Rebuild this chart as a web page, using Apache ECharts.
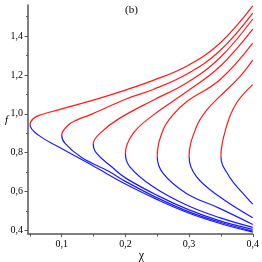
<!DOCTYPE html>
<html><head><meta charset="utf-8">
<script src="https://cdn.jsdelivr.net/npm/echarts@6/dist/echarts.min.js"></script>
<style>html,body{margin:0;padding:0;background:#fff}#c{width:262px;height:262px}</style>
</head><body><div id="c"></div>
<script>
// tick positions
const xMajorTicks = [0.1, 0.2, 0.3, 0.4];
const xMinorTicks = [0.05, 0.1, 0.15, 0.2, 0.25, 0.3, 0.35, 0.4];
const yMajorTicks = [0.4, 0.6, 0.8, 1.0, 1.2, 1.4];
const yMinorTicks = [0.4, 0.5, 0.6, 0.7, 0.8, 0.9, 1.0, 1.1, 1.2, 1.3, 1.4, 1.5];

// nose points [chi, f] of the seven curves
const noses = [[0.0503,0.942],[0.1,0.89],[0.1495,0.845],[0.2,0.795],[0.25,0.78],[0.3,0.78],[0.35,0.78]];
// upper (red) branch points, from the nose outward (nose excluded)
const c1Upper = [[0.0555,0.976],[0.0687,0.996],[0.0947,1.020],[0.152,1.073],[0.1914,1.113],[0.2436,1.172],[0.296,1.245],[0.348,1.362],[0.4,1.555]];
const c2Upper = [[0.1103,0.942],[0.125,0.970],[0.147,0.998],[0.2,1.075],[0.2436,1.125],[0.296,1.203],[0.348,1.323],[0.4,1.518]];
const c3Upper = [[0.1627,0.907],[0.19,0.975],[0.2436,1.070],[0.296,1.158],[0.348,1.287],[0.4,1.488]];
const c4Upper = [[0.2122,0.899],[0.2436,0.993],[0.296,1.113],[0.348,1.242],[0.4,1.436]];
const c5Upper = [[0.2592,0.916],[0.275,0.995],[0.296,1.062],[0.348,1.174],[0.4,1.364]];
const c6Upper = [[0.3116,0.933],[0.328,1.020],[0.348,1.088],[0.3795,1.190],[0.4,1.276]];
const c7Upper = [[0.3586,0.933],[0.3743,1.054],[0.4,1.150]];
// lower (blue) branch points, from the nose outward (nose excluded)
const c1Lower = [[0.0633,0.890],[0.0947,0.830],[0.147,0.736],[0.2,0.638],[0.25,0.558],[0.3,0.488],[0.35,0.434],[0.4,0.391]];
const c2Lower = [[0.1052,0.848],[0.1313,0.775],[0.173,0.705],[0.2,0.652],[0.25,0.567],[0.3,0.495],[0.35,0.440],[0.4,0.396]];
const c3Lower = [[0.1549,0.796],[0.1784,0.727],[0.2,0.670],[0.25,0.580],[0.3,0.505],[0.35,0.447],[0.4,0.405]];
const c4Lower = [[0.207,0.727],[0.2436,0.624],[0.296,0.530],[0.348,0.465],[0.4,0.415]];
const c5Lower = [[0.2592,0.693],[0.2959,0.590],[0.348,0.513],[0.4,0.430]];
const c6Lower = [[0.3116,0.676],[0.348,0.573],[0.4,0.465]];
const c7Lower = [[0.3633,0.676],[0.3846,0.590],[0.4,0.535]];

const uppers = [c1Upper, c2Upper, c3Upper, c4Upper, c5Upper, c6Upper, c7Upper];
const lowers = [c1Lower, c2Lower, c3Lower, c4Lower, c5Lower, c6Lower, c7Lower];

const FONT = '"Liberation Serif", "DejaVu Serif", serif';
const AX = '#555';
const RED = '#ff1a1a', BLUE = '#1a1aff';
const fmt = v => (Math.round(v * 10) / 10).toFixed(1).replace('.', ',');

const chart = echarts.init(document.getElementById('c'), null, {renderer:'canvas'});
const H = 262;
const baseOption = {
  animation:false,
  backgroundColor:'#fff',
  grid:{left:28, right:9, top:5, bottom:28},
  xAxis:[
    {type:'value', min:0.047, max:0.4, position:'bottom',
     axisLine:{show:true, onZero:false, lineStyle:{color:AX, width:1.5}},
     axisTick:{show:true, customValues:xMajorTicks, length:3, lineStyle:{color:AX}},
     axisLabel:{show:true, customValues:xMajorTicks, formatter:fmt, margin:5, color:'#000', fontFamily:FONT, fontSize:10},
     splitLine:{show:false}},
    {type:'value', min:0.047, max:0.4, position:'bottom',
     axisLine:{show:false, onZero:false},
     axisTick:{show:true, customValues:xMinorTicks, length:2.5, lineStyle:{color:AX}},
     axisLabel:{show:false}, splitLine:{show:false}}
  ],
  yAxis:[
    {type:'value', min:0.381, max:1.56, position:'left',
     axisLine:{show:true, onZero:false, lineStyle:{color:AX, width:1.5}},
     axisTick:{show:true, customValues:yMajorTicks, length:3.5, lineStyle:{color:AX}},
     axisLabel:{show:true, customValues:yMajorTicks, formatter:fmt, margin:5, color:'#000', fontFamily:FONT, fontSize:10},
     splitLine:{show:false}},
    {type:'value', min:0.381, max:1.56, position:'left',
     axisLine:{show:false, onZero:false},
     axisTick:{show:true, customValues:yMinorTicks, length:2, lineStyle:{color:AX}},
     axisLabel:{show:false}, splitLine:{show:false}}
  ],
  graphic:[
    {type:'text', x:131.5, y:10, style:{text:'(b)', font:'11px ' + FONT, fill:'#000', align:'center', verticalAlign:'middle'}},
    {type:'text', x:6.5, y:120, style:{text:'f', font:'italic 11px ' + FONT, fill:'#000', align:'center', verticalAlign:'middle'}},
    {type:'text', x:141.5, y:255.5, style:{text:'χ', font:'12px ' + FONT, fill:'#000', align:'center', verticalAlign:'middle'}}
  ],
  series: noses.map((n, i) => ({type:'line', data: uppers[i].slice().reverse().concat([n], lowers[i]),
    smooth:0.4, symbol:'none', xAxisIndex:0, yAxisIndex:0, silent:true, lineStyle:{width:1.2, color:RED}}))
};
chart.setOption(baseOption);
// colour each curve red above its nose and blue below it, using the library's own y scale
chart.setOption({
  series: noses.map(n => {
    const py = chart.convertToPixel({xAxisIndex:0, yAxisIndex:0}, n)[1];
    const t = Math.min(1, Math.max(0, py / H));
    return {lineStyle:{width:1.2, color:{type:'linear', x:0, y:0, x2:0, y2:H, global:true,
      colorStops:[{offset:0, color:RED}, {offset:t, color:RED}, {offset:t, color:BLUE}, {offset:1, color:BLUE}]}}};
  })
});
</script>
</body></html>
